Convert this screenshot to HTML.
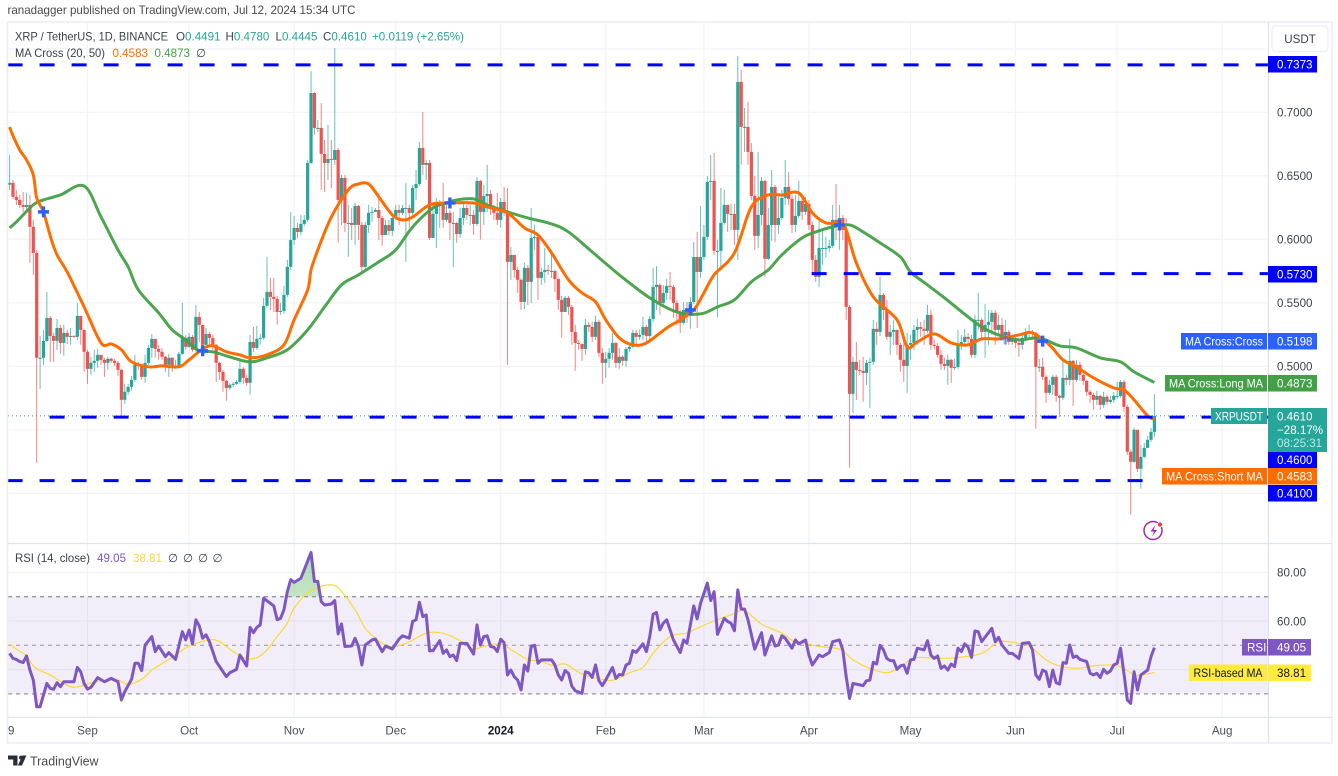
<!DOCTYPE html>
<html lang="en">
<head>
<meta charset="utf-8">
<title>XRP / TetherUS chart</title>
<style>
html,body{margin:0;padding:0;background:#fff;width:1338px;height:776px;overflow:hidden}
svg{display:block;filter:blur(0.35px)}
text{font-family:"Liberation Sans",sans-serif;}
</style>
</head>
<body>
<svg id="chart" width="1338" height="776" viewBox="0 0 1338 776" xmlns="http://www.w3.org/2000/svg">
  <defs>
    <clipPath id="pane-main"><rect x="8" y="23" width="1260" height="520"/></clipPath>
    <clipPath id="pane-rsi"><rect x="8" y="544" width="1260" height="173"/></clipPath>
    <clipPath id="pane-ob"><rect x="8" y="544" width="1260" height="52.7"/></clipPath>
    <clipPath id="pane-os"><rect x="8" y="693.7" width="1260" height="23"/></clipPath>
    <linearGradient id="ob-grad" x1="0" y1="0" x2="0" y2="1"><stop offset="0" stop-color="#4caf50" stop-opacity=".45"/><stop offset="1" stop-color="#4caf50" stop-opacity="0"/></linearGradient>
    <linearGradient id="os-grad" x1="0" y1="0" x2="0" y2="1"><stop offset="0" stop-color="#f44336" stop-opacity="0"/><stop offset="1" stop-color="#f44336" stop-opacity=".12"/></linearGradient>
  </defs>

  <text x="7.5" y="14" font-size="12" fill="#4a4a4a" textLength="348" lengthAdjust="spacingAndGlyphs">ranadagger published on TradingView.com, Jul 12, 2024 15:34 UTC</text>

  <g id="grid"></g>

  <rect x="8" y="596.7" width="1260" height="97" fill="#7e57c2" fill-opacity=".1"/>

  <g id="candles" clip-path="url(#pane-main)"></g>
  <g id="ma-lines" clip-path="url(#pane-main)"></g>
  <g id="levels" clip-path="url(#pane-main)"></g>
  <g id="crosses" clip-path="url(#pane-main)"></g>
  <g id="rsi"></g>

  <g fill="none">
    <rect x="7.5" y="22" width="1324.5" height="721" stroke="#eceef5" stroke-width="1.6"/>
    <line x1="8" x2="1332" y1="543.5" y2="543.5" stroke="#e0e3eb" stroke-width="1.2"/>
    <line x1="8" x2="1332" y1="717.3" y2="717.3" stroke="#e0e3eb" stroke-width="1.2"/>
    <line x1="1268.5" x2="1268.5" y1="22" y2="743" stroke="#e0e3eb" stroke-width="1.2"/>
  </g>

  <g id="axis-labels"></g>

  <g font-size="11.6">
    <text x="15" y="40.5" fill="#3d424d" textLength="153" lengthAdjust="spacingAndGlyphs">XRP / TetherUS, 1D, BINANCE</text>
    <text x="176" y="40.5" fill="#3d424d">O<tspan fill="#26a69a">0.4491</tspan></text>
    <text x="225.5" y="40.5" fill="#3d424d">H<tspan fill="#26a69a">0.4780</tspan></text>
    <text x="275.5" y="40.5" fill="#3d424d">L<tspan fill="#26a69a">0.4445</tspan></text>
    <text x="323" y="40.5" fill="#3d424d">C<tspan fill="#26a69a">0.4610</tspan></text>
    <text x="372" y="40.5" fill="#26a69a">+0.0119 (+2.65%)</text>
    <text x="15" y="57" fill="#3d424d" textLength="90" lengthAdjust="spacingAndGlyphs">MA Cross (20, 50)</text>
    <text x="112.5" y="57" fill="#ff6d00">0.4583</text>
    <text x="154.5" y="57" fill="#43a047">0.4873</text>
    <text x="196" y="57" fill="#3d424d">∅</text>
  </g>

  <g font-size="11.6">
    <text x="15" y="562" fill="#3d424d" textLength="75" lengthAdjust="spacingAndGlyphs">RSI (14, close)</text>
    <text x="97" y="562" fill="#7e57c2">49.05</text>
    <text x="133" y="562" fill="#fdd835">38.81</text>
    <text x="168" y="562" fill="#3d424d">∅</text>
    <text x="183" y="562" fill="#3d424d">∅</text>
    <text x="198" y="562" fill="#3d424d">∅</text>
    <text x="212.5" y="562" fill="#3d424d">∅</text>
  </g>

  <g>
    <rect x="1272" y="26" width="56" height="25.5" rx="4" fill="#fff" stroke="#eceef5" stroke-width="1.2"/>
    <text x="1300" y="43" font-size="11.6" fill="#3d424d" text-anchor="middle">USDT</text>
  </g>

  <g font-size="11.6">
    <rect x="1268" y="56" width="49" height="16.5" fill="#0000ff"/>
    <text x="1277" y="68.5" fill="#fff">0.7373</text>
    <rect x="1268" y="266" width="49" height="16.5" fill="#0000ff"/>
    <text x="1277" y="278.5" fill="#fff">0.5730</text>

    <rect x="1181" y="333" width="86" height="16.5" fill="#2962ff"/>
    <text x="1185" y="345.5" fill="#fff" textLength="78" lengthAdjust="spacingAndGlyphs">MA Cross:Cross</text>
    <rect x="1268" y="333" width="49" height="16.5" fill="#2962ff"/>
    <text x="1277" y="345.5" fill="#fff">0.5198</text>

    <rect x="1165" y="375" width="102" height="16.5" fill="#43a047"/>
    <text x="1169" y="387.5" fill="#fff" textLength="94" lengthAdjust="spacingAndGlyphs">MA Cross:Long MA</text>
    <rect x="1268" y="375" width="49" height="16.5" fill="#43a047"/>
    <text x="1277" y="387.5" fill="#fff">0.4873</text>

    <rect x="1211" y="408" width="56" height="16" fill="#26a69a"/>
    <text x="1215" y="420.5" fill="#fff" textLength="48" lengthAdjust="spacingAndGlyphs">XRPUSDT</text>
    <rect x="1268" y="408" width="59" height="44" fill="#26a69a"/>
    <text x="1277" y="420.5" fill="#fff">0.4610</text>
    <text x="1277" y="434" fill="#fff">−28.17%</text>
    <text x="1277" y="447" fill="#bfe6e2">08:25:31</text>

    <rect x="1268" y="452" width="49" height="16" fill="#0000ff"/>
    <text x="1277" y="464" fill="#fff">0.4600</text>

    <rect x="1162" y="468" width="105" height="16.5" fill="#ff6d00"/>
    <text x="1166" y="480.5" fill="#fff" textLength="97" lengthAdjust="spacingAndGlyphs">MA Cross:Short MA</text>
    <rect x="1268" y="468" width="49" height="16.5" fill="#ff6d00"/>
    <text x="1277" y="480.5" fill="#fff">0.4583</text>

    <rect x="1268" y="485" width="49" height="16.5" fill="#0000ff"/>
    <text x="1277" y="497.5" fill="#fff">0.4100</text>

    <rect x="1242" y="639" width="25" height="16.5" fill="#7e57c2"/>
    <text x="1247" y="651.5" fill="#fff">RSI</text>
    <rect x="1268" y="639" width="43" height="16.5" fill="#7e57c2"/>
    <text x="1277" y="651.5" fill="#fff">49.05</text>

    <rect x="1189" y="664.5" width="78" height="16.5" fill="#ffeb3b"/>
    <text x="1193.5" y="677" fill="#131722" textLength="69" lengthAdjust="spacingAndGlyphs">RSI-based MA</text>
    <rect x="1268" y="664.5" width="43" height="16.5" fill="#ffeb3b"/>
    <text x="1277" y="677" fill="#131722">38.81</text>
  </g>

  <g fill="none">
    <circle cx="1153" cy="530.5" r="9" stroke="#9c27b0" stroke-width="1.5"/>
    <path d="M1155.5 525l-5 6.5h3.5l-2 5 5-6.5h-3.5z" fill="#9c27b0"/>
    <circle cx="1160" cy="524.5" r="2.5" fill="#f23645" stroke="#fff" stroke-width=".8"/>
  </g>

  <g fill="#2a2e39">
    <path d="M8 755.5h9.5v10h-4.3v-6H8zM22.5 755.5h3.9l-4.4 10h-4.2zM19 757.6a2 2 0 1 1 0 .1z"/>
    <text x="30" y="765.5" font-size="13" fill="#4a4a4a" textLength="68.5" lengthAdjust="spacingAndGlyphs">TradingView</text>
  </g>
</svg>

<script>
// ---- candle data (one value per day, Aug 9 2023 -> Jul 12 2024) ----
const firstOpen = 0.6430;
const closes = [
.6444,.6334,.6310,.6270,.6255,.6270,.6098,.5893,.5067,.5067,
.5200,.5381,.5239,.5200,.5302,.5184,.5263,.5232,.5239,.5232,
.5397,.5287,.5114,.4980,.5027,.5043,.5090,.5051,.5027,.5059,
.5043,.5027,.4972,.4736,.4799,.4838,.4893,.5012,.5003,.4917,
.5027,.5145,.5216,.5137,.5114,.5075,.5012,.5067,.4995,.4995,
.5098,.5224,.5153,.5232,.5130,.5389,.5326,.5169,.5255,.5224,
.5169,.5027,.4956,.4885,.4830,.4854,.4862,.4877,.4980,.4909,
.4870,.5192,.5145,.5216,.5224,.5476,.5586,.5547,.5531,.5428,
.5436,.5562,.5783,.5995,.6090,.6058,.6121,.6153,.6601,.7152,
.6877,.6877,.6672,.6601,.6633,.6625,.6703,.6310,.6483,.6129,
.6129,.6113,.6263,.6113,.5783,.6113,.6208,.6216,.6231,.6168,
.6034,.6113,.6066,.6168,.6231,.6208,.6247,.6247,.6208,.6404,
.6436,.6719,.6586,.6601,.6011,.6200,.6271,.6271,.6153,.6208,
.6129,.6129,.6042,.6168,.6247,.6192,.6192,.6121,.6460,.6216,
.6341,.6357,.6247,.6208,.6153,.6294,.6208,.5822,.5877,.5759,
.5681,.5507,.5775,.5665,.6011,.6019,.5696,.5743,.5759,.5751,
.5751,.5688,.5523,.5428,.5539,.5468,.5271,.5184,.5176,.5137,
.5326,.5310,.5232,.5350,.5106,.5027,.5059,.5106,.5184,.5027,
.5075,.5043,.5137,.5153,.5263,.5232,.5247,.5310,.5239,.5373,
.5625,.5641,.5499,.5578,.5633,.5625,.5499,.5421,.5342,.5444,
.5421,.5507,.5861,.5743,.5861,.6019,.6452,.6460,.5909,.5909,
.6129,.6271,.6200,.6200,.6074,.7239,.6885,.6885,.6688,.6341,
.6027,.6192,.6460,.5846,.6113,.6412,.6113,.6168,.6326,.6412,
.6318,.6113,.6184,.6302,.6216,.6278,.6113,.5838,.5704,.5932,
.5932,.5932,.5948,.6153,.6137,.6168,.6074,.5468,.4783,.5035,
.4972,.4964,.4948,.5027,.5035,.5295,.5271,.5562,.5444,.5232,
.5271,.5287,.5169,.5051,.5003,.5169,.5184,.5287,.5310,.5295,
.5279,.5405,.5169,.5161,.5090,.5019,.5003,.5051,.4988,.4995,
.5169,.5192,.5232,.5216,.5090,.5366,.5366,.5271,.5326,.5350,
.5421,.5287,.5326,.5247,.5271,.5192,.5208,.5184,.5169,.5224,
.5263,.5271,.5263,.4996,.4996,.4917,.4791,.4854,.4917,.4767,
.4752,.4909,.4893,.5043,.4893,.5012,.4933,.4885,.4799,.4775,
.4736,.4767,.4696,.4760,.4720,.4736,.4767,.4767,.4877,.4681,
.4327,.4248,.4500,.4193,.4287,.4358,.4421,.4484,.4610];
const highs = [
.6664,.6467,.6389,.6350,.6373,.6365,.6350,.6153,.5917,.5239,
.5287,.5586,.5397,.5263,.5373,.5326,.5326,.5287,.5302,.5247,
.5499,.5397,.5287,.5130,.5074,.5130,.5137,.5090,.5067,.5074,
.5067,.5059,.5043,.4980,.4862,.4862,.4925,.5090,.5035,.5019,
.5090,.5169,.5255,.5216,.5169,.5145,.5082,.5098,.5074,.5051,
.5114,.5499,.5247,.5263,.5247,.5483,.5428,.5326,.5302,.5271,
.5247,.5176,.5035,.4972,.4893,.4869,.4877,.4893,.5043,.4995,
.4933,.5247,.5310,.5318,.5255,.5539,.5861,.5696,.5696,.5554,
.5499,.5633,.5838,.6216,.6184,.6129,.6192,.6192,.6625,.7325,
.7160,.6940,.7073,.6782,.6900,.6782,.7506,.6719,.6507,.6507,
.6271,.6247,.6286,.6271,.6137,.6137,.6271,.6255,.6247,.6365,
.6184,.6153,.6153,.6200,.6271,.6271,.6271,.6444,.6271,.6428,
.6546,.6766,.7003,.6625,.6625,.6271,.6326,.6310,.6444,.6271,
.6231,.6216,.6137,.6247,.6278,.6271,.6271,.6231,.6491,.6467,
.6428,.6585,.6389,.6271,.6365,.6326,.6412,.6404,.5940,.5877,
.5783,.5696,.5814,.5798,.6247,.6113,.6034,.5775,.5932,.5798,
.5917,.5759,.5696,.5554,.5554,.5554,.5483,.5326,.5208,.5176,
.5373,.5350,.5350,.5397,.5366,.5145,.5114,.5145,.5263,.5192,
.5145,.5090,.5153,.5184,.5287,.5287,.5287,.5389,.5326,.5397,
.5775,.5790,.5657,.5641,.5688,.5743,.5641,.5523,.5444,.5507,
.5507,.5547,.5979,.6058,.6263,.6113,.6499,.6664,.6680,.5995,
.6404,.6389,.6271,.6278,.6278,.7443,.7333,.7034,.7081,.6759,
.6499,.6688,.6491,.6467,.6247,.6546,.6428,.6350,.6389,.6625,
.6530,.6350,.6350,.6460,.6350,.6334,.6310,.6137,.5877,.6176,
.6074,.6019,.5995,.6271,.6436,.6271,.6192,.6168,.5483,.5074,
.5192,.5051,.5074,.5051,.5067,.5366,.5350,.5704,.5578,.5523,
.5326,.5366,.5287,.5184,.5208,.5263,.5247,.5326,.5373,.5350,
.5366,.5483,.5444,.5208,.5184,.5130,.5067,.5090,.5059,.5059,
.5287,.5247,.5295,.5263,.5247,.5405,.5578,.5381,.5491,.5444,
.5444,.5444,.5405,.5381,.5366,.5287,.5247,.5247,.5208,.5263,
.5302,.5326,.5287,.5271,.5059,.5067,.4933,.4893,.4932,.4933,
.4775,.5051,.4933,.5216,.5051,.5051,.5035,.4956,.4893,.4815,
.4791,.4807,.4775,.4799,.4775,.4767,.4799,.4877,.4893,.4893,
.4696,.4343,.4516,.4500,.4381,.4397,.4452,.4516,.4780];
const lows = [
.6389,.6318,.6270,.6247,.6215,.6231,.5814,.5720,.4240,.4822,
.5012,.5192,.5035,.5035,.5130,.5098,.5082,.5176,.5169,.5224,
.5208,.5169,.4956,.4862,.4932,.4956,.4988,.5012,.4917,.4972,
.5027,.5003,.4925,.4595,.4705,.4775,.4807,.4877,.4972,.4893,
.4870,.5012,.5067,.5067,.5051,.5051,.4956,.4917,.4956,.4980,
.4988,.5090,.5130,.5145,.5114,.5114,.5192,.5130,.5169,.5169,
.5130,.4877,.4893,.4799,.4728,.4815,.4838,.4854,.4862,.4862,
.4846,.4775,.5114,.5130,.5169,.5208,.5460,.5444,.5428,.5326,
.5405,.5413,.5547,.5759,.5956,.6011,.6035,.6105,.6137,.6593,
.6822,.6845,.6389,.6373,.6467,.6404,.6586,.5972,.6113,.6058,
.5861,.5995,.5956,.5995,.5743,.5759,.6050,.6137,.6215,.5995,
.5948,.6034,.6034,.6027,.6153,.6113,.6192,.5822,.6090,.6192,
.6310,.6420,.6507,.6467,.5995,.6113,.5932,.6090,.6090,.6137,
.5995,.5782,.5972,.6011,.6113,.6153,.6113,.6034,.6105,.5998,
.6113,.6215,.6192,.6153,.6113,.6090,.6184,.5012,.5681,.5696,
.5578,.5444,.5452,.5483,.5499,.5917,.5523,.5641,.5657,.5720,
.5696,.5586,.5444,.5224,.5428,.5405,.5169,.4964,.5130,.5043,
.5090,.5271,.5192,.5208,.5074,.4862,.4909,.4988,.5051,.4988,
.4980,.5003,.4995,.5114,.5145,.5169,.5208,.5208,.5169,.5208,
.5350,.5444,.5405,.5483,.5523,.5523,.5381,.5326,.5263,.5326,
.5342,.5295,.5491,.5302,.5696,.5838,.5995,.6310,.5877,.5389,
.5775,.6113,.6058,.6074,.5956,.5838,.6586,.6688,.6586,.6310,
.5917,.5932,.6113,.5704,.5838,.5987,.5979,.6042,.6153,.6271,
.6271,.6050,.6058,.6168,.6153,.6192,.6074,.5720,.5665,.5625,
.5798,.5854,.5901,.5932,.5995,.5917,.5995,.5366,.4201,.4634,
.4736,.4932,.4720,.4854,.4673,.5012,.5169,.5239,.5366,.5208,
.5090,.5169,.5090,.4956,.4877,.4790,.5051,.5130,.5169,.5232,
.5169,.5263,.5130,.5130,.5067,.4972,.4972,.4854,.4870,.4972,
.4980,.5130,.5169,.5169,.5067,.5067,.5287,.5208,.5067,.5169,
.5247,.5169,.5247,.5224,.5169,.5169,.5169,.5145,.5074,.5130,
.5208,.5224,.5208,.4508,.4956,.4893,.4712,.4775,.4775,.4720,
.4602,.4736,.4853,.4854,.4689,.4877,.4885,.4854,.4767,.4712,
.4657,.4696,.4657,.4673,.4696,.4705,.4712,.4744,.4752,.4641,
.4303,.3831,.4240,.4169,.4036,.4280,.4358,.4405,.4445];

// ---- moving averages, read at the days listed ----
const maShortDays = [0,1,3,5,7,8,10,12,14,17,22,27,30,33,36,41,45,50,53,57,60,64,68,71,76,81,84,88,89,91,95,100,103,106,109,113,116,119,124,129,137,141,147,152,156,160,165,169,173,176,180,184,188,194,198,202,205,208,214,219,224,228,233,237,241,245,247,250,255,262,265,268,273,278,283,287,292,298,302,307,311,315,320,326,329,332,336,338];
const maShortValues = [.6884,.6814,.6703,.6625,.6507,.6326,.6216,.6027,.5877,.5743,.5468,.5184,.5176,.5130,.5035,.4996,.5003,.4996,.5051,.5137,.5161,.5114,.5090,.5067,.5090,.5169,.5366,.5602,.5759,.5916,.6176,.6389,.6436,.6436,.6334,.6192,.6153,.6176,.6271,.6286,.6286,.6255,.6208,.6090,.6034,.5893,.5681,.5578,.5507,.5366,.5224,.5169,.5184,.5302,.5366,.5444,.5578,.5720,.5893,.6255,.6349,.6349,.6365,.6208,.6129,.6129,.6074,.5814,.5547,.5366,.5153,.5192,.5255,.5184,.5169,.5216,.5216,.5247,.5263,.5169,.5051,.4996,.4909,.4830,.4815,.4736,.4610,.4583];
const maLongDays = [0,2,7,10,15,22,27,32,35,38,44,48,52,56,60,65,71,76,82,88,93,98,103,109,114,119,125,129,132,137,141,147,153,160,165,172,180,189,197,204,209,214,219,224,228,234,238,243,248,252,257,263,266,271,276,283,287,292,298,304,310,315,322,328,332,338];
const maLongValues = [.6090,.6137,.6271,.6310,.6349,.6420,.6176,.5916,.5783,.5602,.5421,.5287,.5208,.5122,.5114,.5074,.5035,.5067,.5130,.5287,.5468,.5641,.5720,.5822,.5916,.6098,.6247,.6286,.6310,.6318,.6271,.6216,.6168,.6121,.6058,.5901,.5720,.5539,.5428,.5413,.5468,.5523,.5665,.5759,.5877,.6011,.6058,.6098,.6113,.6058,.5972,.5861,.5743,.5641,.5539,.5389,.5310,.5247,.5208,.5224,.5161,.5145,.5067,.5035,.4956,.4873];

// ---- MA crossing markers ----
const crossDays = [10,57,130,201,245,305];
const crossValues = [.6216,.5122,.6286,.5444,.6113,.5198];
const crossFaintDays = [294];
const crossFaintValues = [.5216];

// ---- horizontal levels drawn on the chart ----
const levelPrices = [.7373,.5730,.4600,.4100];
const levelStartDays = [-0.6,236.8,11.8,-0.6];
const levelEndDays = [339,370,339,335.4];

// ---- axis ticks ----
const priceTicks = [.75,.70,.65,.60,.55,.50,.45,.40];
const priceTickLabels = ["","0.7000","0.6500","0.6000","0.5500","0.5000","",""];
const monthDays = [23,53,84,114,145,176,205,236,266,297,327,358];
const monthLabels = ["Sep","Oct","Nov","Dec","2024","Feb","Mar","Apr","May","Jun","Jul","Aug"];
const rsiTicks = [80,60,40];
const rsiTickLabels = ["80.00","60.00",""];
const rsiBands = [70,50,30];

// ---- RSI, read at the days listed ----
const rsiDays = [0,1,2,3,4,5,6,7,8,9,11,12,13,14,15,16,19,20,21,22,23,24,26,28,30,32,33,34,36,37,38,39,40,42,43,44,46,47,49,51,52,53,54,55,56,57,58,59,61,64,65,67,68,70,71,72,73,74,75,78,79,80,81,82,83,84,86,89,90,91,92,93,95,96,97,98,99,101,102,103,104,105,107,108,110,111,113,115,116,118,119,120,121,122,123,124,125,127,128,129,130,
131,132,133,135,137,138,139,140,141,142,143,144,145,146,147,148,149,150,151,152,153,154,155,156,157,160,161,162,163,164,165,166,167,169,170,171,172,173,174,175,176,178,179,180,181,182,183,184,185,187,188,189,190,191,192,193,194,196,198,199,200,202,203,204,206,207,208,209,211,212,213,214,215,216,217,218,220,222,223,225,226,227,228,229,231,232,233,235,236,237,239,240,242,243,245,246,247,248,249,252,253,254,255,256,257,258,259,260,261,262,
263,264,265,266,267,268,270,271,272,273,274,275,276,277,278,279,280,281,282,283,284,285,286,287,290,291,292,293,295,296,298,299,301,302,303,304,305,306,307,308,309,310,311,312,313,314,315,316,318,319,320,321,322,323,324,325,326,327,328,329,330,331,332,333,334,336,337,338];
const rsiValues = [46.7,44.6,44.2,43.3,42.9,45.6,39.8,35.7,24.7,24.7,34.3,32.3,31.9,34.6,33,35,35,40.9,39.1,34.3,32,32.7,36.7,35,36.4,35,27.5,30.9,36,42.6,42.6,39.6,50.1,53.6,47.4,49.7,45.3,47,44.2,55.6,52.2,56.3,50.6,60.5,58,52.9,54.3,51.5,43.3,37.1,38.7,40.1,46,41.5,57.4,55.2,57.4,58.4,69.4,66.2,60.5,61.1,64.6,72.1,77,75.9,77.6,88.2,76.3,76.3,68,66.6,67,68.4,54.7,58.8,49.5,49.7,52.9,49.5,41.9,50.1,52.2,52.6,47.4,49.7,48.5,52.6,53.9,52.9,59.8,60.5,67.7,61.8,62.5,47.7,47.8,51.9,46.7,48.1,45.3,
46,43.7,50.8,50.8,46.4,58.4,50.1,53.6,53.9,49.5,49.2,47.4,52.5,51.1,37.8,39.8,37.1,35.7,31.6,41.9,39.4,49.7,50,42.6,44,44,41.9,37.8,35.7,39.6,38.5,33.2,31.3,30.2,39.1,38.7,36.8,41.9,35.4,33.4,35.7,40.9,36.4,38,37.8,41.9,42.6,47.8,47.1,50.6,47.4,53.6,62.8,63.5,56.3,59.1,60.5,52.2,47,52.2,50.8,66.2,60.9,67.3,75.6,68.4,72.1,54.5,61.1,59.8,59.1,56,72.8,64.9,64.9,60.5,48.4,55.2,46,53.9,49.7,50.1,53.9,52.9,48.8,52.2,50.6,52.2,46,41.9,46,45.3,47,51.5,52.2,48.1,37.1,28.1,34.3,33.4,35.4,35.7,43,42.3,50,48.1,44.6,43.7,43.7,40.1,
41.5,41.9,38.5,44,44.2,48.8,48.1,51.9,46,44.6,45.6,40.5,41.5,39.8,42.3,41.2,48.8,47.4,50.6,49.2,45,55.9,55.6,51.5,57,51.5,53.3,50.1,46.7,46.7,44.6,50.8,51.1,48.1,37.8,36,39.8,39.1,33,39.8,34.6,34,42.9,42.6,50.1,45,45.6,44.2,43.3,38.5,37.8,38.5,36.7,40.1,38.5,39.4,41.9,42.6,48.8,38.5,27.5,26.1,39.1,31.6,37.8,39.8,45.3,49.05];
const rsiMaDays = [0,2,5,7,9,12,16,19,23,27,32,35,39,42,46,49,53,59,62,66,70,73,76,79,82,84,89,95,98,102,105,108,112,117,123,127,130,134,137,140,145,149,153,157,161,164,169,176,179,183,187,190,195,200,203,208,213,217,222,228,232,235,239,245,249,254,259,263,266,269,276,284,288,292,296,301,306,310,315,320,325,328,332,334,338];
const rsiMaValues = [50.6,48.4,45.6,41.5,39.6,37.8,34.3,32.7,34,35.4,35.7,33.9,36,39.8,43.3,46,49.7,52.2,51.5,47.4,44.6,44.9,48.1,53.6,59.1,65.3,72.6,74.9,72.1,64.6,57,52.9,49.5,50.8,55,55.2,54,51.1,48.4,49.5,50.6,47.4,44.2,43.3,41.5,42.3,38.2,35.7,36,38.7,40.9,46.7,53.6,55,57,60,62.5,64.2,58.7,55,51.1,50.8,49.5,48.4,44,40.5,38.7,40.9,44.2,45,44.6,45.7,47.4,51.5,51.2,49.7,44,41.5,40.5,41.5,41.9,41.2,37.8,37.8,38.81];

// ---- axis functions ----
const xAt = function (day) { return 9.6 + 3.387 * day; };
const yPrice = function (p) { return 366.3 + (0.5 - p) * 1270; };
const yRsi = function (v) { return 645.3 + (50 - v) * 2.43; };

const NS = 'http://www.w3.org/2000/svg';
function mk(parent, tag, attrs) {
  const el = document.createElementNS(NS, tag);
  for (const k in attrs) el.setAttribute(k, attrs[k]);
  parent.appendChild(el);
  return el;
}
function linePath(days, values, yFn) {
  let d = '';
  for (let i = 0; i < days.length; i++) {
    d += (i ? 'L' : 'M') + xAt(days[i]).toFixed(2) + ' ' + yFn(values[i]).toFixed(2);
  }
  return d;
}
function smoothPath(days, values, yFn) {
  const px = days.map(xAt);
  const py = values.map(yFn);
  let d = 'M' + px[0].toFixed(2) + ' ' + py[0].toFixed(2);
  for (let i = 0; i < px.length - 1; i++) {
    const a = Math.max(i - 1, 0), b = Math.min(i + 2, px.length - 1);
    const c1x = px[i] + (px[i + 1] - px[a]) / 6, c1y = py[i] + (py[i + 1] - py[a]) / 6;
    const c2x = px[i + 1] - (px[b] - px[i]) / 6, c2y = py[i + 1] - (py[b] - py[i]) / 6;
    d += 'C' + c1x.toFixed(2) + ' ' + c1y.toFixed(2) + ' ' + c2x.toFixed(2) + ' ' + c2y.toFixed(2) + ' ' + px[i + 1].toFixed(2) + ' ' + py[i + 1].toFixed(2);
  }
  return d;
}

// grid
const gridG = document.getElementById('grid');
priceTicks.forEach(function (p) {
  const el = mk(gridG, 'line', {x1: 8, x2: 1268, y1: yPrice(p), y2: yPrice(p), stroke: '#f2f3f7', 'stroke-width': 1.2});
  
  
});
rsiTicks.forEach(function (v) {
  const el = mk(gridG, 'line', {x1: 8, x2: 1268, y1: yRsi(v), y2: yRsi(v), stroke: '#f2f3f7', 'stroke-width': 1.2});
  
  
});
monthDays.forEach(function (d) {
  const el = mk(gridG, 'line', {x1: xAt(d), x2: xAt(d), y1: 23, y2: 717, stroke: '#f2f3f7', 'stroke-width': 1.2});
  
  
});

// candles
const candleG = document.getElementById('candles');
closes.forEach(function (c, i) {
  const o = i === 0 ? firstOpen : closes[i - 1];
  const up = c >= o;
  const color = up ? '#26a69a' : '#ef5350';
  const x = xAt(i);
  const top = Math.max(o, c);
  const bot = Math.min(o, c);
  const g = mk(candleG, 'g', {});
  
  
  const wick = mk(g, 'line', {x1: x, x2: x, y1: yPrice(Math.max(highs[i], top)), y2: yPrice(Math.min(lows[i], bot)), stroke: color, 'stroke-width': 1, 'stroke-opacity': 0.7});
  
  
  const body = mk(g, 'rect', {x: x - 1.6, y: yPrice(top), width: 3.2, height: Math.max(1, yPrice(bot) - yPrice(top)), fill: color});
  
  
});

// moving averages
const maG = document.getElementById('ma-lines');
const longLine = mk(maG, 'path', {d: smoothPath(maLongDays, maLongValues, yPrice), fill: 'none', stroke: '#43a047', 'stroke-width': 3, 'stroke-linejoin': 'round', 'stroke-opacity': .95});


const shortLine = mk(maG, 'path', {d: smoothPath(maShortDays, maShortValues, yPrice), fill: 'none', stroke: '#ff6d00', 'stroke-width': 3, 'stroke-linejoin': 'round'});



// last-price dotted line
const priceLine = mk(document.getElementById('levels'), 'line', {x1: 8, x2: 1268, y1: yPrice(closes[closes.length - 1]), y2: yPrice(closes[closes.length - 1]), stroke: '#26a69a', 'stroke-width': 1, 'stroke-dasharray': '1 3'});



// level lines
levelPrices.forEach(function (p, i) {
  const el = mk(document.getElementById('levels'), 'line', {x1: xAt(levelStartDays[i]), x2: xAt(levelEndDays[i]) + (i < 3 ? 120 : 0), y1: yPrice(p), y2: yPrice(p), stroke: '#0000ff', 'stroke-width': 3, 'stroke-dasharray': '15 17'});
  
  
});

// cross markers
const crossG = document.getElementById('crosses');
function drawCross(day, value, opacity) {
  const x = xAt(day), y = yPrice(value);
  const el = mk(crossG, 'path', {d: 'M' + (x - 5.5) + ' ' + y + 'H' + (x + 5.5) + 'M' + x + ' ' + (y - 5.5) + 'V' + (y + 5.5), stroke: '#2962ff', 'stroke-width': 3.4, fill: 'none', 'stroke-opacity': opacity});
  
  
}
crossDays.forEach(function (d, i) { drawCross(d, crossValues[i], 1); });
crossFaintDays.forEach(function (d, i) { drawCross(d, crossFaintValues[i], 0.45); });

// RSI pane
const rsiG = document.getElementById('rsi');
rsiBands.forEach(function (v) {
  const el = mk(rsiG, 'line', {x1: 8, x2: 1268, y1: yRsi(v), y2: yRsi(v), stroke: '#9598a1', 'stroke-width': v === 50 ? 1 : 1.3, 'stroke-dasharray': '4 4'});
  
  
});
const areaBase = function (level) {
  return linePath(rsiDays, rsiValues, yRsi) + 'L' + xAt(rsiDays[rsiDays.length - 1]) + ' ' + yRsi(level) + 'L' + xAt(rsiDays[0]) + ' ' + yRsi(level) + 'Z';
};
const obFill = mk(rsiG, 'path', {d: areaBase(70), fill: 'url(#ob-grad)', 'clip-path': 'url(#pane-ob)'});


const osFill = mk(rsiG, 'path', {d: areaBase(30), fill: 'url(#os-grad)', 'clip-path': 'url(#pane-os)'});


const rsiMaLine = mk(rsiG, 'path', {d: smoothPath(rsiMaDays, rsiMaValues, yRsi), fill: 'none', stroke: '#fdd835', 'stroke-width': 1.2, 'stroke-linejoin': 'round', 'clip-path': 'url(#pane-rsi)'});


const rsiLine = mk(rsiG, 'path', {d: linePath(rsiDays, rsiValues, yRsi), fill: 'none', stroke: '#7e57c2', 'stroke-width': 3, 'stroke-linejoin': 'round', 'clip-path': 'url(#pane-rsi)'});



// axis labels
const labelG = document.getElementById('axis-labels');
priceTicks.forEach(function (p, i) {
  if (!priceTickLabels[i]) return;
  const el = mk(labelG, 'text', {x: 1277, y: yPrice(p) + 4.3, 'font-size': 11.6, fill: '#3d424d'});
  el.textContent = priceTickLabels[i];
  
  
});
rsiTicks.forEach(function (v, i) {
  if (!rsiTickLabels[i]) return;
  const el = mk(labelG, 'text', {x: 1277, y: yRsi(v) + 4.3, 'font-size': 11.6, fill: '#3d424d'});
  el.textContent = rsiTickLabels[i];
  
  
});
monthDays.forEach(function (d, i) {
  const el = mk(labelG, 'text', {x: xAt(d), y: 734.5, 'font-size': 11.6, 'text-anchor': 'middle', fill: monthLabels[i] === '2024' ? '#131722' : '#4a4e58', 'font-weight': monthLabels[i] === '2024' ? 'bold' : 'normal'});
  el.textContent = monthLabels[i];
  
  
});
const clippedTick = mk(labelG, 'text', {x: 8, y: 734.5, 'font-size': 11.6, fill: '#4a4e58'});
clippedTick.textContent = '9';


</script>
</body>
</html>
